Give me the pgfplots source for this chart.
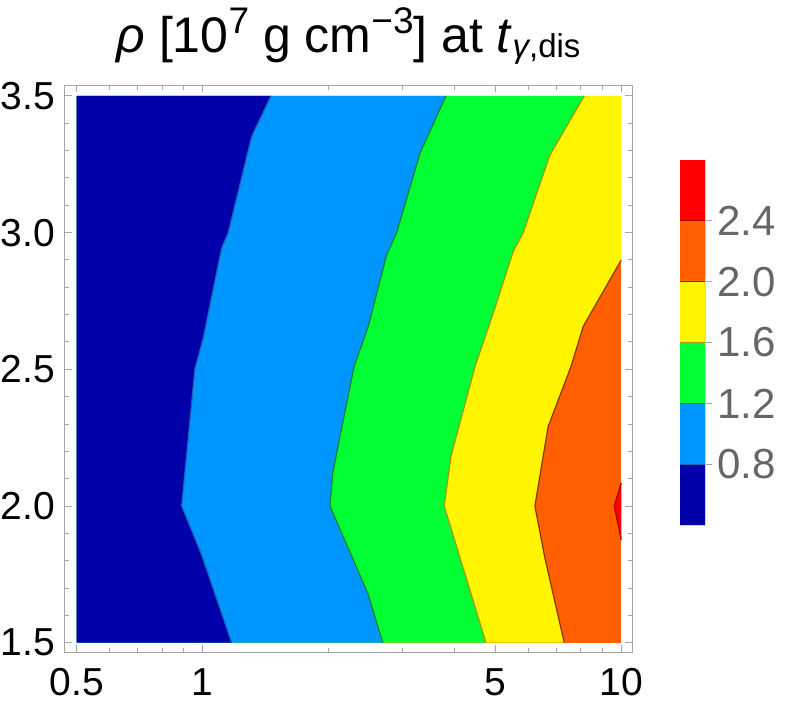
\documentclass[border=0pt]{standalone}
\usepackage{fontspec}
\setmainfont{Liberation Sans}
\usepackage{pgfplots}
\pgfplotsset{compat=1.18}
\definecolor{cDB}{RGB}{0,0,170}
\definecolor{cLB}{RGB}{0,150,255}
\definecolor{cGR}{RGB}{0,255,50}
\definecolor{cYE}{RGB}{255,245,0}
\definecolor{cOR}{RGB}{255,95,0}
\definecolor{cRD}{RGB}{255,0,0}
\definecolor{lA}{RGB}{30,100,180}
\definecolor{lB}{RGB}{20,130,40}
\definecolor{lC}{RGB}{170,150,20}
\definecolor{lD}{RGB}{140,50,10}
\definecolor{lE}{RGB}{170,0,0}
\definecolor{frm}{RGB}{165,165,165}
\definecolor{lbl}{RGB}{102,102,102}
\newcommand{\tfont}{\fontsize{39}{39}\selectfont}
\newcommand{\cfont}{\fontsize{42}{42}\selectfont}
\newcommand{\mysup}[1]{\raisebox{19pt}{\fontsize{37}{37}\selectfont #1}}
\newcommand{\mysub}[1]{\raisebox{-5pt}{\fontsize{33}{33}\selectfont #1}}
\begin{document}
\begin{tikzpicture}
\begin{axis}[
 at={(65pt,-652pt)}, anchor=south west,
 scale only axis, width=567pt, height=567pt,
 xmode=log, xmin=0.4689, xmax=10.61, ymin=1.466, ymax=3.540,
 xtick={0.5,1,5,10}, xticklabels={0.5,1,5,10},
 minor xtick={0.6,0.7,0.8,0.9,2,3,4,6,7,8,9},
 ytick={1.5,2,2.5,3,3.5}, yticklabels={1.5,2.0,2.5,3.0,3.5},
 minor ytick={1.6,1.7,1.8,1.9,2.1,2.2,2.3,2.4,2.6,2.7,2.8,2.9,3.1,3.2,3.3,3.4},
 tick align=inside,
 major tick length=7pt, minor tick length=4.5pt,
 axis line style={frm, line width=1pt},
 tick style={frm, line width=1pt},
 minor tick style={frm, line width=1pt},
 tick label style={font=\tfont, inner sep=0pt, text=black},
 xticklabel style={yshift=-16pt},
 yticklabel style={xshift=-10pt},
 every axis title/.style={at={(0.5,1)}, anchor=base, yshift=33pt, font=\fontsize{50}{50}\selectfont},
 title={\textit{ρ} [10\mysup{7} g cm\mysup{−3}] at \textit{t}\mysub{\textit{γ},dis}},
]
% orange base
\addplot[fill=cOR, draw=none] coordinates {(0.5,1.5)(10,1.5)(10,3.5)(0.5,3.5)} --cycle;
% yellow
\addplot[fill=cYE, draw=none] coordinates {(0.5,1.5)(7.31,1.5)(6.571,1.810)(6.219,2.0)(6.691,2.291)(7.582,2.509)(8.115,2.657)(10,2.900)(10,3.5)(0.5,3.5)} --cycle;
% green
\addplot[fill=cGR, draw=none] coordinates {(0.5,1.5)(4.751,1.5)(3.777,2.0)(3.919,2.181)(4.472,2.509)(4.945,2.705)(5.52,2.931)(5.833,3.0)(6.755,3.284)(8.16,3.5)(0.5,3.5)} --cycle;
% light blue
\addplot[fill=cLB, draw=none] coordinates {(0.5,1.5)(2.692,1.5)(2.487,1.676)(2.014,2.0)(2.044,2.120)(2.299,2.509)(2.487,2.657)(2.751,2.919)(2.907,3.0)(3.304,3.290)(3.812,3.5)(0.5,3.5)} --cycle;
% dark blue
\addplot[fill=cDB, draw=none] coordinates {(0.5,1.5)(1.173,1.5)(0.994,1.822)(0.891,2.0)(0.958,2.5)(1.003,2.614)(1.110,2.943)(1.151,3.0)(1.309,3.351)(1.456,3.5)(0.5,3.5)} --cycle;
% red
\addplot[fill=cRD, draw=none] coordinates {(10,2.084)(9.62,2.0)(10,1.877)} --cycle;
% contour lines
\addplot[lA, line width=1.2pt] coordinates {(1.173,1.5)(0.994,1.822)(0.891,2.0)(0.958,2.5)(1.003,2.614)(1.110,2.943)(1.151,3.0)(1.309,3.351)(1.456,3.5)};
\addplot[lB, line width=1.2pt] coordinates {(2.692,1.5)(2.487,1.676)(2.014,2.0)(2.044,2.120)(2.299,2.509)(2.487,2.657)(2.751,2.919)(2.907,3.0)(3.304,3.290)(3.812,3.5)};
\addplot[lC, line width=1.2pt] coordinates {(4.751,1.5)(3.777,2.0)(3.919,2.181)(4.472,2.509)(4.945,2.705)(5.52,2.931)(5.833,3.0)(6.755,3.284)(8.16,3.5)};
\addplot[lD, line width=1.2pt] coordinates {(7.31,1.5)(6.571,1.810)(6.219,2.0)(6.691,2.291)(7.582,2.509)(8.115,2.657)(10,2.900)};
\addplot[lE, line width=1.2pt] coordinates {(10,2.084)(9.62,2.0)(10,1.877)};
\end{axis}
\begin{axis}[
 at={(680pt,-525pt)}, anchor=south west,
 scale only axis, width=25pt, height=365pt,
 xmin=0, xmax=1, ymin=0.4, ymax=2.8,
 xtick=\empty,
 ytick={0.8,1.2,1.6,2.0,2.4}, yticklabels={0.8,1.2,1.6,2.0,2.4},
 ytick pos=right, yticklabel pos=right,
 tick align=outside, major tick length=7pt,
 axis line style={draw=frm!50, line width=1pt},
 tick style={frm, line width=1pt},
 tick label style={font=\cfont, inner sep=0pt, text=lbl},
 yticklabel style={xshift=5pt},
]
\addplot[fill=cDB, draw=none] coordinates {(0,0.4)(1,0.4)(1,0.8)(0,0.8)} --cycle;
\addplot[fill=cLB, draw=none] coordinates {(0,0.8)(1,0.8)(1,1.2)(0,1.2)} --cycle;
\addplot[fill=cGR, draw=none] coordinates {(0,1.2)(1,1.2)(1,1.6)(0,1.6)} --cycle;
\addplot[fill=cYE, draw=none] coordinates {(0,1.6)(1,1.6)(1,2.0)(0,2.0)} --cycle;
\addplot[fill=cOR, draw=none] coordinates {(0,2.0)(1,2.0)(1,2.4)(0,2.4)} --cycle;
\addplot[fill=cRD, draw=none] coordinates {(0,2.4)(1,2.4)(1,2.8)(0,2.8)} --cycle;
\addplot[lA, line width=1pt] coordinates {(0,0.8)(1,0.8)};
\addplot[lB, line width=1pt] coordinates {(0,1.2)(1,1.2)};
\addplot[lC, line width=1pt] coordinates {(0,1.6)(1,1.6)};
\addplot[lD, line width=1pt] coordinates {(0,2.0)(1,2.0)};
\addplot[lE, line width=1pt] coordinates {(0,2.4)(1,2.4)};
\end{axis}
\pgfresetboundingbox
\path[use as bounding box] (0pt,0pt) rectangle (789pt,-709pt);
\end{tikzpicture}
\end{document}
